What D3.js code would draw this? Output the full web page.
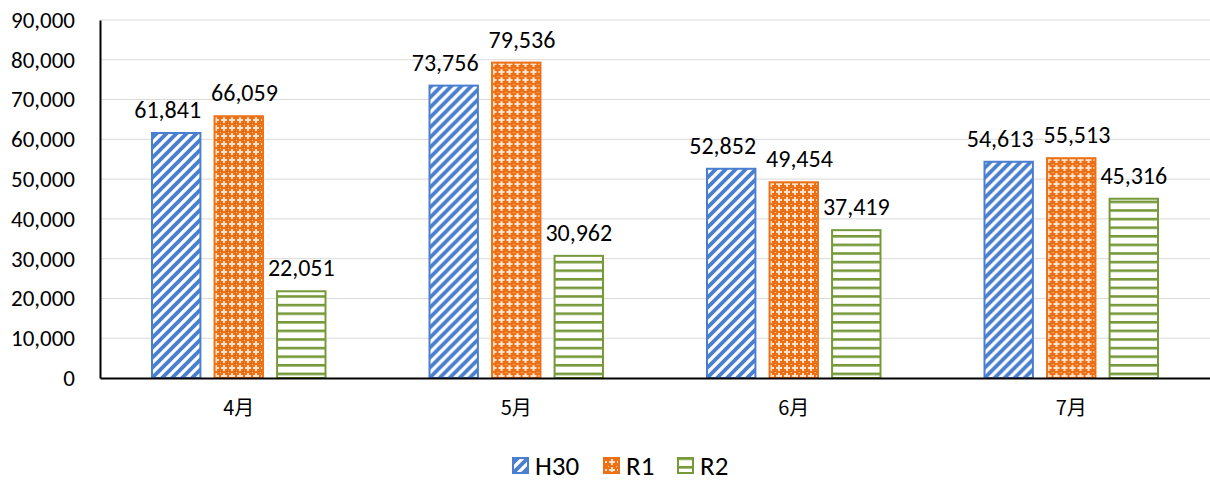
<!DOCTYPE html>
<html>
<head>
<meta charset="utf-8">
<script src="https://cdn.jsdelivr.net/npm/d3@7"></script>
<style>
  body { margin: 0; background: #fff; }
  svg { font-family: Carlito, Calibri, "Open Sans", sans-serif; }
</style>
</head>
<body>
<div id="chart"></div>
<script>
const months = ["4月", "5月", "6月", "7月"];
const seriesNames = ["H30", "R1", "R2"];
const h30 = [61841, 73756, 52852, 54613];
const r1 = [66059, 79536, 49454, 55513];
const r2 = [22051, 30962, 37419, 45316];
const yTicks = [0, 10000, 20000, 30000, 40000, 50000, 60000, 70000, 80000, 90000];

const colors = { H30: "#4a7fd0", R1: "#ed7014", R2: "#76993a" };
const values = { H30: h30, R1: r1, R2: r2 };

const width = 1210, height = 481;
const margin = { top: 20, right: 0, bottom: 103, left: 100 };
const innerW = width - margin.left - margin.right;
const innerH = height - margin.top - margin.bottom;

const svg = d3.select("#chart").append("svg")
    .attr("width", width)
    .attr("height", height);

// patterns
const defs = svg.append("defs");

const pBlue = defs.append("pattern")
    .attr("id", "pat-H30")
    .attr("patternUnits", "userSpaceOnUse")
    .attr("width", 10).attr("height", 10);
pBlue.append("rect").attr("width", 10).attr("height", 10).attr("fill", "#fff");
pBlue.append("path")
    .attr("d", "M-2,12 L12,-2 M-7,7 L7,-7 M3,17 L17,3")
    .attr("stroke", colors.H30).attr("stroke-width", 3.8);

const pOrange = defs.append("pattern")
    .attr("id", "pat-R1")
    .attr("patternUnits", "userSpaceOnUse")
    .attr("width", 8).attr("height", 8);
pOrange.append("rect").attr("width", 8).attr("height", 8).attr("fill", colors.R1);
pOrange.append("rect").attr("x", 3).attr("y", 1).attr("width", 2).attr("height", 6).attr("fill", "#fde3cf");
pOrange.append("rect").attr("x", 1).attr("y", 3).attr("width", 6).attr("height", 2).attr("fill", "#fde3cf");
pOrange.append("rect").attr("x", 0).attr("y", 0).attr("width", 1).attr("height", 1).attr("fill", "#f9c49b");

const pGreen = defs.append("pattern")
    .attr("id", "pat-R2")
    .attr("patternUnits", "userSpaceOnUse")
    .attr("width", 8).attr("height", 8.6);
pGreen.append("rect").attr("width", 8).attr("height", 8.6).attr("fill", "#fff");
pGreen.append("rect").attr("y", 0).attr("width", 8).attr("height", 2.6).attr("fill", colors.R2);

const g = svg.append("g")
    .attr("transform", `translate(${margin.left},${margin.top})`);

const x0 = d3.scaleBand().domain(months).range([0, innerW]).paddingInner(0).paddingOuter(0);
const x1 = d3.scaleBand().domain(seriesNames).range([51, x0.bandwidth() - 51]).paddingInner(0.194);
const y = d3.scaleLinear().domain([0, 90000]).range([innerH, 0]);

// grid
g.append("g")
    .selectAll("line")
    .data(yTicks.slice(1))
    .join("line")
    .attr("x1", 0).attr("x2", innerW)
    .attr("y1", d => y(d)).attr("y2", d => y(d))
    .attr("stroke", "#d9d9d9").attr("stroke-width", 1);

// bars
const groups = g.selectAll(".grp")
    .data(months)
    .join("g")
    .attr("transform", d => `translate(${x0(d)},0)`);

seriesNames.forEach(s => {
    groups.append("rect")
        .attr("x", x1(s) + 1)
        .attr("y", (d, i) => y(values[s][i]) + 1)
        .attr("width", x1.bandwidth() - 2)
        .attr("height", (d, i) => innerH - y(values[s][i]) - 1)
        .attr("fill", `url(#pat-${s})`)
        .attr("stroke", colors[s])
        .attr("stroke-width", 2);
});

// data labels, nudged apart when neighbours collide (like the hand-placed ones)
groups.each(function(d, i) {
    const grp = d3.select(this);
    const labels = seriesNames.map(s => {
        const t = grp.append("text")
            .attr("x", x1(s) + x1.bandwidth() / 2)
            .attr("y", y(values[s][i]) - 14)
            .attr("text-anchor", "middle")
            .attr("font-size", "24px")
            .attr("fill", "#000")
            .text(d3.format(",")(values[s][i]));
        return { t, cx: x1(s) + x1.bandwidth() / 2, cy: y(values[s][i]) - 14, w: t.node().getComputedTextLength() };
    });
    for (let k = 0; k < labels.length - 1; k++) {
        const a = labels[k], b = labels[k + 1];
        if (Math.abs(a.cy - b.cy) < 24) {
            const overlap = (a.cx + a.w / 2 + 10) - (b.cx - b.w / 2);
            if (overlap > 0) {
                a.cx -= overlap * 0.6;
                b.cx += overlap * 0.4;
            }
        }
    }
    labels.forEach(l => l.t.attr("x", l.cx));
});

// y axis
const yAxis = g.append("g")
    .call(d3.axisLeft(y).tickValues(yTicks).tickFormat(d3.format(",")).tickSize(0).tickPadding(25));
yAxis.select(".domain").attr("stroke", "#000").attr("stroke-width", 2);
yAxis.selectAll("text").attr("font-size", "23px").attr("fill", "#000")
    .style("font-family", "Carlito, Calibri, 'Open Sans', sans-serif");

// x axis
const xAxis = g.append("g")
    .attr("transform", `translate(0,${innerH})`)
    .call(d3.axisBottom(x0).tickSize(0).tickPadding(23));
xAxis.select(".domain").attr("stroke", "#000").attr("stroke-width", 2);
xAxis.selectAll("text").attr("font-size", "20px").attr("fill", "#000")
    .style("font-family", "'Noto Sans CJK JP', sans-serif");

// legend
const legendX = [513, 604, 678];
const legend = svg.append("g").attr("transform", "translate(0,466)");
seriesNames.forEach((s, i) => {
    legend.append("rect")
        .attr("x", legendX[i]).attr("y", -8)
        .attr("width", 15).attr("height", 15)
        .attr("fill", `url(#pat-${s})`)
        .attr("stroke", colors[s]).attr("stroke-width", 2);
    legend.append("text")
        .attr("x", legendX[i] + 22).attr("y", 0)
        .attr("dy", "0.35em")
        .attr("font-size", "27px")
        .attr("fill", "#000")
        .text(s);
});
</script>
</body>
</html>
